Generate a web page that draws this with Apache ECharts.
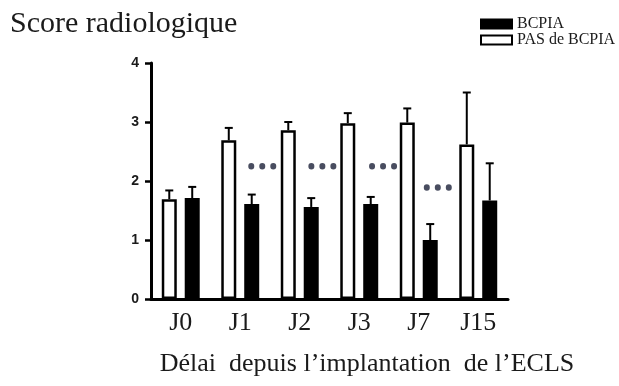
<!DOCTYPE html>
<html>
<head>
<meta charset="utf-8">
<script src="https://cdn.jsdelivr.net/npm/echarts@6/dist/echarts.min.js"></script>
<style>
html,body{margin:0;padding:0;background:#fff;}
#chart{width:619px;height:386px;}
</style>
</head>
<body>
<div id="chart"></div>
<script>
// ---- data ----
const categories = ['J0', 'J1', 'J2', 'J3', 'J7', 'J15'];
const pasMeans = [1.69, 2.69, 2.86, 2.98, 2.99, 2.62];   // PAS de BCPIA (white)
const pasUpper = [1.84, 2.90, 3.00, 3.15, 3.23, 3.50];
const bcpiaMeans = [1.71, 1.61, 1.56, 1.61, 1.00, 1.67]; // BCPIA (black)
const bcpiaUpper = [1.90, 1.77, 1.71, 1.73, 1.27, 2.30];
const yTicks = [0, 1, 2, 3, 4];
// significance markers: [position along category scale (0..6), level]
const sigMarkers = [[1.87, 2.25], [2.88, 2.25], [3.90, 2.25], [4.82, 1.89]];

const chart = echarts.init(document.getElementById('chart'), null, {renderer: 'canvas'});

const BAR_W = 15;
const BAR_GAP = 0.53;
const OFF = (BAR_W + BAR_W * BAR_GAP) / 2;

function errRender(offset) {
  return function (params, api) {
    const i = api.value(0);
    const b = api.coord([i, api.value(1)]);
    const t = api.coord([i, api.value(2)]);
    const x = b[0] + offset;
    return {
      type: 'group',
      children: [
        {type: 'line', shape: {x1: x, y1: b[1], x2: x, y2: t[1]}, style: {stroke: '#000', lineWidth: 2}},
        {type: 'line', shape: {x1: x - 4, y1: t[1], x2: x + 4, y2: t[1]}, style: {stroke: '#000', lineWidth: 2}}
      ]
    };
  };
}

const serif = '"Liberation Serif", "Times New Roman", serif';

chart.setOption({
  animation: false,
  backgroundColor: '#fff',
  title: [
    {
      text: 'Score radiologique', left: 5, top: 4,
      textStyle: {fontFamily: serif, fontSize: 30, fontWeight: 'normal', color: '#1a1a1a'}
    },
    {
      text: 'Délai  depuis l’implantation  de l’ECLS', left: 362, top: 346, textAlign: 'center',
      textStyle: {fontFamily: serif, fontSize: 26, fontWeight: 'normal', color: '#1a1a1a'}
    }
  ],
  legend: {
    data: ['BCPIA', 'PAS de BCPIA'],
    orient: 'vertical', left: 480, top: 16, padding: 0,
    itemWidth: 31, itemHeight: 9, itemGap: 0,
    icon: 'rect',
    textStyle: {fontFamily: serif, fontSize: 16, lineHeight: 12, color: '#1a1a1a'}
  },
  grid: {left: 151, right: 111, top: 63, bottom: 87},
  xAxis: [
    {
      type: 'category', data: categories,
      axisLine: {lineStyle: {color: '#000', width: 3}},
      axisTick: {show: false},
      axisLabel: {fontFamily: serif, fontSize: 26, color: '#1a1a1a', margin: 11}
    },
    {type: 'value', min: 0, max: 6, show: false}
  ],
  yAxis: {
    type: 'value', min: yTicks[0], max: yTicks[yTicks.length - 1], interval: 1,
    axisLine: {show: true, lineStyle: {color: '#000', width: 3}},
    axisTick: {show: true, length: 6, lineStyle: {color: '#000', width: 2.5}},
    axisLabel: {fontFamily: '"Liberation Sans", Arial, sans-serif', fontWeight: 'bold', fontSize: 14, color: '#1a1a1a', margin: 12},
    splitLine: {show: false}
  },
  series: [
    {
      name: 'PAS de BCPIA', type: 'bar', data: pasMeans,
      barWidth: BAR_W, barGap: (BAR_GAP * 100) + '%',
      itemStyle: {color: '#fff', borderColor: '#000', borderWidth: 2.5},
      z: 3
    },
    {
      name: 'BCPIA', type: 'bar', data: bcpiaMeans,
      barWidth: BAR_W,
      itemStyle: {color: '#000', borderColor: '#000', borderWidth: 2.5},
      z: 3
    },
    {
      type: 'custom', renderItem: errRender(-OFF), z: 2,
      data: categories.map((c, i) => [i, pasMeans[i], pasUpper[i]])
    },
    {
      type: 'custom', renderItem: errRender(OFF), z: 2,
      data: categories.map((c, i) => [i, bcpiaMeans[i], bcpiaUpper[i]])
    },
    {
      type: 'scatter', xAxisIndex: 1, data: sigMarkers,
      symbol: 'path://M0,3A3,3,0,1,1,6,3A3,3,0,1,1,0,3ZM11,3A3,3,0,1,1,17,3A3,3,0,1,1,11,3ZM22,3A3,3,0,1,1,28,3A3,3,0,1,1,22,3Z',
      symbolSize: [28, 6.5],
      itemStyle: {color: '#1c2038'},
      z: 4
    }
  ]
});
</script>
</body>
</html>
